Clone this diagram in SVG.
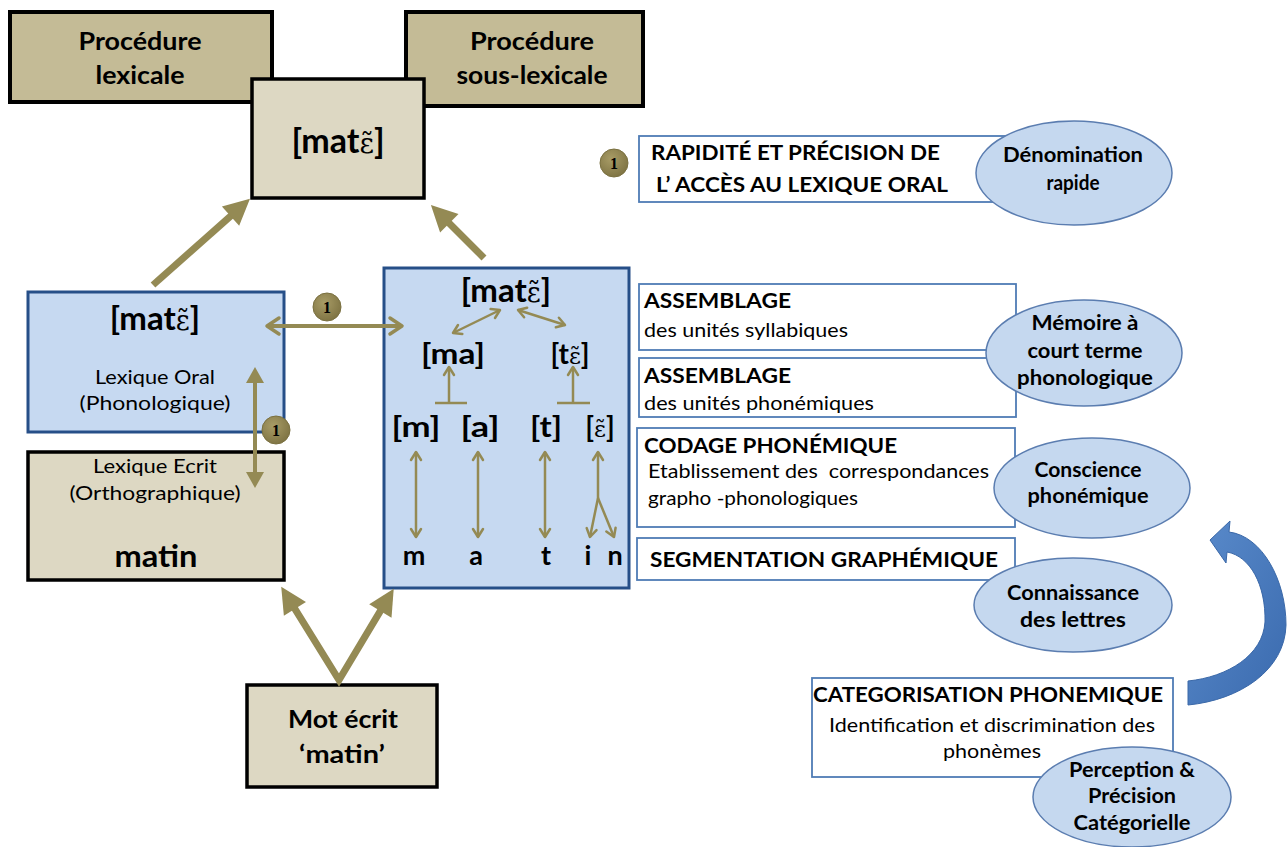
<svg xmlns="http://www.w3.org/2000/svg" width="1287" height="847" viewBox="0 0 1287 847">
<defs>
<style>
.t{font-family:Lato,"Open Sans","Liberation Sans",sans-serif;fill:#000}
.b{font-weight:bold}
.eps{font-family:"DejaVu Serif",serif;font-weight:normal}
.khaki{fill:#c4bb96;stroke:#000;stroke-width:4}
.beige{fill:#ddd8c3;stroke:#000;stroke-width:3.5}
.bluebox{fill:#c6d9f1;stroke:#264f88;stroke-width:3}
.tbox{fill:#fff;stroke:#4f7cb5;stroke-width:1.8}
.ell{fill:#c5d8ef;stroke:#5b7db0;stroke-width:1.5}
.thick{stroke:#948a54;stroke-width:7;fill:none}
.mid{stroke:#948a54;stroke-width:4;fill:none}
.thin{stroke:#948a54;stroke-width:2.5;fill:none}
.badge{fill:url(#bg);stroke:#7a7040;stroke-width:1}
.one{font-family:"Liberation Serif",serif;font-weight:bold;font-size:16px;fill:#000;text-anchor:middle}
</style>
<radialGradient id="bg" cx="0.4" cy="0.35" r="0.7">
<stop offset="0" stop-color="#a89c66"/>
<stop offset="1" stop-color="#7d7242"/>
</radialGradient>
<linearGradient id="blu" x1="0" y1="0" x2="1" y2="1">
<stop offset="0" stop-color="#5b8ccc"/>
<stop offset="1" stop-color="#3a6aae"/>
</linearGradient>
<marker id="big" markerUnits="userSpaceOnUse" markerWidth="26" markerHeight="26" viewBox="0 0 24 24" refX="6" refY="12" orient="auto-start-reverse" overflow="visible">
<path d="M0,0 L24,12 L0,24 z" fill="#948a54"/>
</marker>
<marker id="chev" markerUnits="userSpaceOnUse" markerWidth="14" markerHeight="18" viewBox="0 0 14 18" refX="13" refY="9" orient="auto-start-reverse" overflow="visible">
<path d="M1,1 L13,9 L1,17" fill="none" stroke="#948a54" stroke-width="3.5" stroke-linecap="round" stroke-linejoin="round"/>
</marker>
<marker id="tri" markerUnits="userSpaceOnUse" markerWidth="16" markerHeight="18" viewBox="0 0 16 18" refX="8" refY="9" orient="auto-start-reverse" overflow="visible">
<path d="M0,0 L16,9 L0,18 z" fill="#948a54"/>
</marker>
<marker id="sch" markerUnits="userSpaceOnUse" markerWidth="10" markerHeight="12" viewBox="0 0 10 12" refX="9" refY="6" orient="auto-start-reverse" overflow="visible">
<path d="M1,1 L9,6 L1,11" fill="none" stroke="#948a54" stroke-width="2.5" stroke-linecap="round" stroke-linejoin="round"/>
</marker>
</defs>
<rect width="1287" height="847" fill="#fff"/>

<g id="proc-lexicale">
<rect class="khaki" x="10" y="12" width="262" height="90"/>
<text class="t b" x="140" y="50" font-size="24" text-anchor="middle" textLength="123" lengthAdjust="spacingAndGlyphs">Procédure</text>
<text class="t b" x="140" y="84" font-size="24" text-anchor="middle" textLength="89" lengthAdjust="spacingAndGlyphs">lexicale</text>
</g>
<g id="proc-souslexicale">
<rect class="khaki" x="406" y="12" width="237" height="94"/>
<text class="t b" x="532" y="50" font-size="24" text-anchor="middle" textLength="124" lengthAdjust="spacingAndGlyphs">Procédure</text>
<text class="t b" x="532" y="84" font-size="24" text-anchor="middle" textLength="151" lengthAdjust="spacingAndGlyphs">sous-lexicale</text>
</g>
<g id="mat-output">
<rect class="beige" x="252" y="79" width="172" height="119"/>
<text class="t b" x="338" y="153" font-size="34" text-anchor="middle">[mat<tspan class="eps" font-size="28">ε̃</tspan>]</text>
</g>
<g id="lexique-oral">
<rect class="bluebox" x="28" y="292" width="256" height="140"/>
<text class="t b" x="155" y="330" font-size="33" text-anchor="middle">[mat<tspan class="eps" font-size="27">ε̃</tspan>]</text>
<text class="t" x="155" y="384" font-size="19" text-anchor="middle" textLength="120" lengthAdjust="spacingAndGlyphs">Lexique Oral</text>
<text class="t" x="155" y="410" font-size="19" text-anchor="middle" textLength="151" lengthAdjust="spacingAndGlyphs">(Phonologique)</text>
</g>
<g id="lexique-ecrit">
<rect class="beige" x="28" y="452" width="256" height="128"/>
<text class="t" x="155" y="473" font-size="19" text-anchor="middle" textLength="124" lengthAdjust="spacingAndGlyphs">Lexique Ecrit</text>
<text class="t" x="155" y="500" font-size="19" text-anchor="middle" textLength="171" lengthAdjust="spacingAndGlyphs">(Orthographique)</text>
<text class="t b" x="156" y="567" font-size="30" text-anchor="middle" textLength="83" lengthAdjust="spacingAndGlyphs">matin</text>
</g>
<g id="mot-ecrit">
<rect class="beige" x="247" y="685" width="190" height="102" stroke-width="4"/>
<text class="t b" x="343" y="728" font-size="25" text-anchor="middle" textLength="110" lengthAdjust="spacingAndGlyphs">Mot écrit</text>
<text class="t b" x="342" y="763" font-size="25" text-anchor="middle" textLength="86" lengthAdjust="spacingAndGlyphs">‘matin’</text>
</g>
<g id="sous-lexical-box">
<rect class="bluebox" x="384" y="268" width="245" height="320"/>
<text class="t b" x="506" y="302" font-size="33" text-anchor="middle">[mat<tspan class="eps" font-size="27">ε̃</tspan>]</text>
<text class="t b" x="453" y="364" font-size="28" text-anchor="middle" textLength="64" lengthAdjust="spacingAndGlyphs">[ma]</text>
<text class="t b" x="570" y="364" font-size="28" text-anchor="middle">[t<tspan class="eps" font-size="23">ε̃</tspan>]</text>
<text class="t b" x="416" y="437" font-size="28" text-anchor="middle" textLength="49" lengthAdjust="spacingAndGlyphs">[m]</text>
<text class="t b" x="480" y="437" font-size="28" text-anchor="middle" textLength="39" lengthAdjust="spacingAndGlyphs">[a]</text>
<text class="t b" x="546" y="437" font-size="28" text-anchor="middle" textLength="32" lengthAdjust="spacingAndGlyphs">[t]</text>
<text class="t b" x="600" y="437" font-size="28" text-anchor="middle">[<tspan class="eps" font-size="23">ε̃</tspan>]</text>
<text class="t b" x="414" y="565" font-size="27" text-anchor="middle">m</text>
<text class="t b" x="476" y="565" font-size="27" text-anchor="middle">a</text>
<text class="t b" x="546" y="565" font-size="27" text-anchor="middle">t</text>
<text class="t b" x="588" y="565" font-size="27" text-anchor="middle">i</text>
<text class="t b" x="615" y="565" font-size="27" text-anchor="middle">n</text>
</g>

<g id="rapidite">
<rect class="tbox" x="639" y="136" width="380" height="66"/>
<text class="t b" x="651" y="160" font-size="21" textLength="289" lengthAdjust="spacingAndGlyphs">RAPIDITÉ ET PRÉCISION DE</text>
<text class="t b" x="656" y="192" font-size="21" textLength="292" lengthAdjust="spacingAndGlyphs">L’ ACCÈS AU LEXIQUE ORAL</text>
</g>
<g id="assemblage-syll">
<rect class="tbox" x="639" y="284" width="377" height="66"/>
<text class="t b" x="644" y="308" font-size="21" textLength="147" lengthAdjust="spacingAndGlyphs">ASSEMBLAGE</text>
<text class="t" x="644" y="337" font-size="19" fill="#222" textLength="204" lengthAdjust="spacingAndGlyphs">des unités syllabiques</text>
</g>
<g id="assemblage-phon">
<rect class="tbox" x="639" y="358" width="377" height="59"/>
<text class="t b" x="644" y="383" font-size="21" textLength="147" lengthAdjust="spacingAndGlyphs">ASSEMBLAGE</text>
<text class="t" x="644" y="410" font-size="19" fill="#222" textLength="230" lengthAdjust="spacingAndGlyphs">des unités phonémiques</text>
</g>
<g id="codage">
<rect class="tbox" x="637" y="428" width="378" height="99"/>
<text class="t b" x="644" y="453" font-size="21" textLength="253" lengthAdjust="spacingAndGlyphs">CODAGE PHONÉMIQUE</text>
<text class="t" x="648" y="478" font-size="19" fill="#222" style="white-space:pre" textLength="341" lengthAdjust="spacingAndGlyphs">Etablissement des  correspondances</text>
<text class="t" x="648" y="505" font-size="19" fill="#222" textLength="210" lengthAdjust="spacingAndGlyphs">grapho -phonologiques</text>
</g>
<g id="segmentation">
<rect class="tbox" x="637" y="538" width="378" height="42" stroke="#b4c2d4"/>
<text class="t b" x="650" y="567" font-size="21" textLength="348" lengthAdjust="spacingAndGlyphs">SEGMENTATION GRAPHÉMIQUE</text>
</g>
<g id="categorisation">
<rect class="tbox" x="812" y="678" width="361" height="99" stroke="#7f95b3"/>
<text class="t b" x="813" y="702" font-size="21" textLength="350" lengthAdjust="spacingAndGlyphs">CATEGORISATION PHONEMIQUE</text>
<text class="t" x="992" y="732" font-size="19" fill="#222" text-anchor="middle" textLength="326" lengthAdjust="spacingAndGlyphs">Identification et discrimination des</text>
<text class="t" x="992" y="758" font-size="19" fill="#222" text-anchor="middle" textLength="98" lengthAdjust="spacingAndGlyphs">phonèmes</text>
</g>

<g id="denomination">
<ellipse class="ell" cx="1074" cy="173" rx="98" ry="52"/>
<text class="t b" x="1073" y="162" font-size="20" text-anchor="middle" textLength="140" lengthAdjust="spacingAndGlyphs">Dénomination</text>
<text class="t b" x="1073" y="190" font-size="20" text-anchor="middle" textLength="53" lengthAdjust="spacingAndGlyphs">rapide</text>
</g>
<g id="memoire">
<ellipse class="ell" cx="1084" cy="353" rx="98" ry="53"/>
<text class="t b" x="1085" y="330" font-size="20" text-anchor="middle" textLength="107" lengthAdjust="spacingAndGlyphs">Mémoire à</text>
<text class="t b" x="1085" y="358" font-size="20" text-anchor="middle" textLength="115" lengthAdjust="spacingAndGlyphs">court terme</text>
<text class="t b" x="1085" y="385" font-size="20" text-anchor="middle" textLength="136" lengthAdjust="spacingAndGlyphs">phonologique</text>
</g>
<g id="conscience">
<ellipse class="ell" cx="1092" cy="488" rx="98" ry="50"/>
<text class="t b" x="1088" y="477" font-size="20" text-anchor="middle" textLength="107" lengthAdjust="spacingAndGlyphs">Conscience</text>
<text class="t b" x="1088" y="503" font-size="20" text-anchor="middle" textLength="121" lengthAdjust="spacingAndGlyphs">phonémique</text>
</g>
<g id="connaissance">
<ellipse class="ell" cx="1073" cy="605" rx="99" ry="47"/>
<text class="t b" x="1073" y="600" font-size="20" text-anchor="middle" textLength="132" lengthAdjust="spacingAndGlyphs">Connaissance</text>
<text class="t b" x="1073" y="627" font-size="20" text-anchor="middle" textLength="106" lengthAdjust="spacingAndGlyphs">des lettres</text>
</g>
<g id="perception">
<ellipse class="ell" cx="1132" cy="797" rx="99" ry="50"/>
<text class="t b" x="1132" y="777" font-size="20" text-anchor="middle" textLength="126" lengthAdjust="spacingAndGlyphs">Perception &amp;</text>
<text class="t b" x="1132" y="803" font-size="20" text-anchor="middle" textLength="88" lengthAdjust="spacingAndGlyphs">Précision</text>
<text class="t b" x="1132" y="830" font-size="20" text-anchor="middle" textLength="117" lengthAdjust="spacingAndGlyphs">Catégorielle</text>
</g>

<g id="connectors">
<line class="thick" x1="153" y1="285" x2="235.4" y2="211.8" marker-end="url(#big)"/>
<line class="thick" x1="484" y1="258" x2="444.7" y2="218.7" marker-end="url(#big)"/>
<path class="thick" d="M291.5,603.3 L339,680 L383.7,605.4" stroke-linejoin="miter" marker-start="url(#big)" marker-end="url(#big)"/>
<line class="mid" x1="267" y1="326" x2="402" y2="326" marker-start="url(#chev)" marker-end="url(#chev)"/>
<line class="mid" x1="255" y1="375" x2="255" y2="480" marker-start="url(#tri)" marker-end="url(#tri)"/>
<line class="thin" x1="500" y1="310" x2="453" y2="333" marker-start="url(#sch)" marker-end="url(#sch)"/>
<line class="thin" x1="518" y1="310" x2="565" y2="325" marker-start="url(#sch)" marker-end="url(#sch)"/>
<line class="thin" x1="449" y1="403" x2="449" y2="367" marker-end="url(#sch)"/>
<line class="thin" x1="435" y1="403" x2="467" y2="403" stroke-width="3"/>
<line class="thin" x1="573" y1="403" x2="573" y2="367" marker-end="url(#sch)"/>
<line class="thin" x1="557" y1="403" x2="590" y2="403" stroke-width="3"/>
<line class="thin" x1="416" y1="452" x2="416" y2="537" marker-start="url(#sch)" marker-end="url(#sch)"/>
<line class="thin" x1="478" y1="452" x2="478" y2="537" marker-start="url(#sch)" marker-end="url(#sch)"/>
<line class="thin" x1="545" y1="452" x2="545" y2="537" marker-start="url(#sch)" marker-end="url(#sch)"/>
<path class="thin" d="M598,452 L598,498 L590,537" marker-start="url(#sch)" marker-end="url(#sch)"/>
<path class="thin" d="M598,498 L614,537" marker-end="url(#sch)"/>
<path d="M1210,540 L1230,521 L1229,532 C1262,536 1286,580 1286,625 C1285,670 1240,700 1188,705 L1188,681 C1228,677 1263,655 1265,622 C1266,585 1250,556 1227,552 L1226,563 Z" fill="url(#blu)" stroke="#3a68a8" stroke-width="1"/>
</g>

<g id="badges">
<circle class="badge" cx="614" cy="163" r="14"/>
<text class="one" x="614" y="169">1</text>
<circle class="badge" cx="327" cy="307" r="14"/>
<text class="one" x="327" y="313">1</text>
<circle class="badge" cx="276" cy="430" r="14"/>
<text class="one" x="276" y="436">1</text>
</g>
</svg>
